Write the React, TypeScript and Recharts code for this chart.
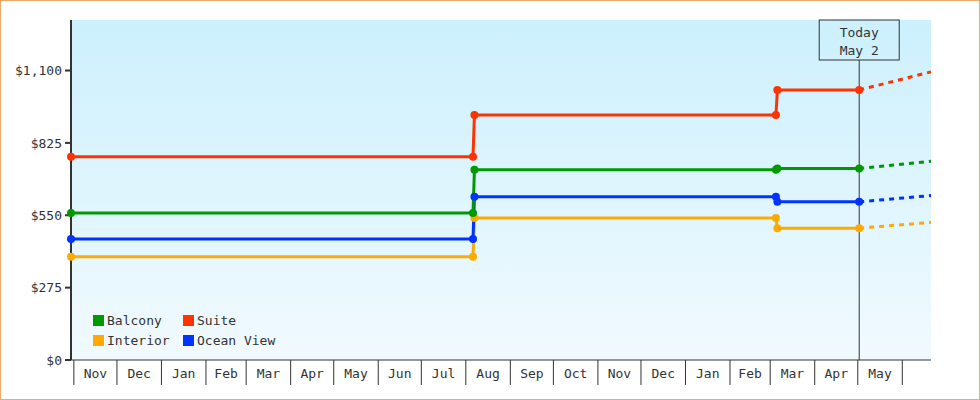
import React from 'react';
import { LineChart, Line, XAxis, YAxis, CartesianGrid, ReferenceLine, Legend } from 'recharts';

// ---------- data ----------
const pointDates = ['2021-10-30', '2022-08-06', '2022-08-07', '2023-03-05', '2023-03-06', '2023-05-02', '2023-06-21'];
const balcony = [559, 559, 723, 723, 728, 728, null];
const suite = [772, 772, 931, 931, 1026, 1026, null];
const interior = [392, 392, 540, 540, 501, 501, null];
const oceanView = [460, 460, 620, 620, 601, 601, null];
const balconyProj = [null, null, null, null, null, 728, 755];
const suiteProj = [null, null, null, null, null, 1026, 1095];
const interiorProj = [null, null, null, null, null, 501, 523];
const oceanViewProj = [null, null, null, null, null, 601, 625];

const monthStarts = [
  '2021-11-01', '2021-12-01', '2022-01-01', '2022-02-01', '2022-03-01', '2022-04-01', '2022-05-01',
  '2022-06-01', '2022-07-01', '2022-08-01', '2022-09-01', '2022-10-01', '2022-11-01', '2022-12-01',
  '2023-01-01', '2023-02-01', '2023-03-01', '2023-04-01', '2023-05-01', '2023-06-01',
];
const monthLabels = ['Nov', 'Dec', 'Jan', 'Feb', 'Mar', 'Apr', 'May', 'Jun', 'Jul', 'Aug', 'Sep', 'Oct', 'Nov', 'Dec', 'Jan', 'Feb', 'Mar', 'Apr', 'May'];
const yTicks = [0, 275, 550, 825, 1100];
const Y_MAX = 1292;
const X_START = '2021-10-30';
const X_END = '2023-06-21';
const TODAY = '2023-05-02';
const todayLines = ['Today', 'May 2'];

// ---------- helpers ----------
const DAY = 86400000;
const ORIGIN = Date.UTC(2021, 10, 1);
const dayOf = (iso: string) => Math.round((Date.parse(iso + 'T00:00:00Z') - ORIGIN) / DAY);

const series = [
  { key: 'interior', name: 'Interior', color: '#ffaa00', values: interior, proj: interiorProj },
  { key: 'oceanView', name: 'Ocean View', color: '#0033ff', values: oceanView, proj: oceanViewProj },
  { key: 'balcony', name: 'Balcony', color: '#009900', values: balcony, proj: balconyProj },
  { key: 'suite', name: 'Suite', color: '#ff3300', values: suite, proj: suiteProj },
];
const legendOrder = ['balcony', 'suite', 'interior', 'oceanView'];

const rows = pointDates.map((d, i) => {
  const r: any = { day: dayOf(d) };
  series.forEach((s) => {
    r[s.key] = s.values[i];
    r[s.key + 'Proj'] = s.proj[i];
  });
  return r;
});

const boundaryDays = monthStarts.map(dayOf);
const midDays = monthLabels.map((_, i) => (boundaryDays[i] + boundaryDays[i + 1]) / 2);
const boundarySet = new Set(boundaryDays);
const labelByDay = new Map(midDays.map((d, i) => [d, monthLabels[i]] as [number, string]));
const xTicks = [...boundaryDays, ...midDays].sort((a, b) => a - b);

const FONT = '"DejaVu Sans Mono", monospace';
const INK = '#333333';

function MonthTick(props: any) {
  const { x, y, payload } = props;
  const v = payload.value;
  if (boundarySet.has(v)) {
    return <line x1={x} x2={x} y1={y} y2={y + 25} stroke={INK} strokeWidth={1} />;
  }
  return (
    <text x={x} y={y + 18} textAnchor="middle" fill={INK} fontSize={13} fontFamily={FONT}>
      {labelByDay.get(v)}
    </text>
  );
}

function TodayMarker(props: any) {
  const { x1, y1, y2 } = props;
  const top = Math.min(y1, y2);
  const bottom = Math.max(y1, y2);
  const boxW = 80;
  const boxH = 40;
  return (
    <g>
      <line x1={x1} x2={x1} y1={top + boxH} y2={bottom} stroke={INK} strokeWidth={1} />
      <rect x={x1 - boxW / 2} y={top} width={boxW} height={boxH} fill="none" stroke={INK} strokeWidth={1} />
      <text x={x1} y={top + 17} textAnchor="middle" fill={INK} fontSize={13} fontFamily={FONT}>
        {todayLines[0]}
      </text>
      <text x={x1} y={top + 35} textAnchor="middle" fill={INK} fontSize={13} fontFamily={FONT}>
        {todayLines[1]}
      </text>
    </g>
  );
}

function LegendBox() {
  const items = legendOrder.map((k) => series.find((s) => s.key === k)!);
  return (
    <div style={{ display: 'grid', gridTemplateColumns: '90px 110px', rowGap: 0 }}>
      {items.map((s) => (
        <div key={s.key} style={{ display: 'flex', alignItems: 'center', height: 20, fontFamily: FONT, fontSize: 13, color: INK }}>
          <span style={{ display: 'inline-block', width: 11, height: 11, background: s.color, marginRight: 3 }} />
          <span>{s.name}</span>
        </div>
      ))}
    </div>
  );
}

const fmtMoney = (v: number) => '$' + v.toLocaleString('en-US');

export default function App() {
  return (
    <div style={{ position: 'absolute', left: 0, top: 0, width: 980, height: 400, background: '#fff' }}>
      <LineChart width={980} height={400} data={rows} margin={{ top: 20, right: 49, left: 0, bottom: 15 }}>
        <defs>
          <linearGradient id="plotBg" x1="0" y1="0" x2="0" y2="1">
            <stop offset="0%" stopColor="#ccf0fd" />
            <stop offset="100%" stopColor="#f1faff" />
          </linearGradient>
        </defs>
        <CartesianGrid fill="url(#plotBg)" horizontal={false} vertical={false} stroke="none" />
        <XAxis
          dataKey="day"
          type="number"
          domain={[dayOf(X_START), dayOf(X_END)]}
          ticks={xTicks}
          interval={0}
          tick={<MonthTick />}
          tickLine={false}
          tickSize={0}
          tickMargin={0}
          height={25}
          axisLine={{ stroke: INK, strokeWidth: 1 }}
        />
        <XAxis
          xAxisId="bottomLine"
          dataKey="day"
          type="number"
          domain={[dayOf(X_START), dayOf(X_END)]}
          tick={false}
          tickLine={false}
          height={0}
          axisLine={{ stroke: INK, strokeWidth: 1 }}
        />
        <YAxis
          type="number"
          domain={[0, Y_MAX]}
          ticks={yTicks}
          interval={0}
          width={71}
          tickSize={6}
          tickMargin={3}
          tickFormatter={fmtMoney}
          tick={{ fill: INK, fontSize: 13, fontFamily: FONT }}
          tickLine={{ stroke: INK, strokeWidth: 2 }}
          axisLine={{ stroke: INK, strokeWidth: 2 }}
        />
        <ReferenceLine x={dayOf(TODAY)} stroke={INK} shape={<TodayMarker />} ifOverflow="visible" />
        {series.map((s) => (
          <Line
            key={s.key + 'Proj'}
            dataKey={s.key + 'Proj'}
            type="linear"
            stroke={s.color}
            strokeWidth={3}
            strokeDasharray="5 5"
            dot={false}
            activeDot={false}
            legendType="none"
            isAnimationActive={false}
          />
        ))}
        {series.map((s) => (
          <Line
            key={s.key}
            dataKey={s.key}
            name={s.name}
            type="linear"
            stroke={s.color}
            strokeWidth={3}
            dot={{ r: 4, fill: s.color, stroke: 'none', strokeWidth: 0 }}
            activeDot={false}
            isAnimationActive={false}
          />
        ))}
        <Legend
          layout="horizontal"
          verticalAlign="middle"
          align="center"
          content={<LegendBox />}
          wrapperStyle={{ left: 93, top: 310, width: 200, height: 40 }}
        />
      </LineChart>
      <div
        style={{
          position: 'absolute',
          left: 0,
          top: 0,
          width: 980,
          height: 400,
          boxSizing: 'border-box',
          border: '1px solid #eeaa66',
          pointerEvents: 'none',
        }}
      />
    </div>
  );
}
